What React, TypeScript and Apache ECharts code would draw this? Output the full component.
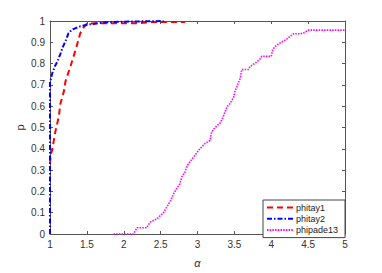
import React, { useEffect, useRef } from "react";
import * as echarts from "echarts";

const xTicks = [1, 1.5, 2, 2.5, 3, 3.5, 4, 4.5, 5];
const seriesNames = ["phitay1", "phitay2", "phipade13"];

const phitay1X = [1.0, 1.01, 1.03, 1.07, 1.09, 1.12, 1.14, 1.19, 1.21, 1.28, 1.35, 1.41, 1.46, 1.5, 1.7, 2.2, 2.4, 2.83];
const phitay1Y = [0.33, 0.372, 0.394, 0.477, 0.507, 0.552, 0.61, 0.672, 0.717, 0.79, 0.867, 0.942, 0.972, 0.987, 0.99, 0.99, 0.995, 0.995];

const phitay2X = [1.0, 1.0, 1.03, 1.07, 1.1, 1.14, 1.17, 1.21, 1.25, 1.3, 1.41, 1.53, 1.73, 2.0, 2.54];
const phitay2Y = [0.0, 0.709, 0.754, 0.79, 0.81, 0.845, 0.875, 0.905, 0.942, 0.96, 0.975, 0.984, 0.993, 0.997, 1.0];

const phipadeX = [1.86, 2.13, 2.18, 2.31, 2.36, 2.45, 2.54, 2.63, 2.68, 2.72, 2.76, 2.79, 2.83, 2.86, 2.9, 2.97, 3.03, 3.1, 3.17, 3.19, 3.22, 3.26, 3.31, 3.35, 3.4, 3.44, 3.49, 3.51, 3.58, 3.6, 3.69, 3.71, 3.8, 3.85, 3.87, 4.0, 4.02, 4.07, 4.12, 4.2, 4.3, 4.4, 4.46, 4.5, 5.0];
const phipadeY = [0.0, 0.0, 0.029, 0.029, 0.056, 0.071, 0.101, 0.154, 0.191, 0.215, 0.235, 0.27, 0.29, 0.32, 0.34, 0.372, 0.399, 0.424, 0.439, 0.477, 0.492, 0.507, 0.522, 0.552, 0.597, 0.612, 0.642, 0.672, 0.732, 0.772, 0.772, 0.785, 0.807, 0.822, 0.834, 0.834, 0.867, 0.886, 0.897, 0.912, 0.94, 0.94, 0.947, 0.957, 0.957];

const zip = (xs: number[], ys: number[]) => xs.map((x, i) => [x, ys[i]]);

export default function App() {
  const ref = useRef<HTMLDivElement>(null);
  useEffect(() => {
    if (!ref.current) return;
    const chart = echarts.init(ref.current, undefined, { renderer: "svg" });
    const axisColor = "#555";
    const labelColor = "#333";
    const font = "Liberation Sans, Arial, sans-serif";
    const baseX = {
      type: "value" as const,
      min: 1,
      max: 5,
      interval: 0.5,
      axisLine: { show: true, onZero: false, lineStyle: { color: axisColor, width: 1 } },
      axisTick: { show: true, inside: true, length: 3, lineStyle: { color: axisColor } },
      splitLine: { show: false },
    };
    const baseY = {
      type: "value" as const,
      min: 0,
      max: 1,
      interval: 0.1,
      axisLine: { show: true, onZero: false, lineStyle: { color: axisColor, width: 1 } },
      axisTick: { show: true, inside: true, length: 3, lineStyle: { color: axisColor } },
      splitLine: { show: false },
    };
    chart.setOption({
      animation: false,
      backgroundColor: "#fff",
      grid: { left: 50, right: 37, top: 21, bottom: 31 },
      legend: {
        left: 263,
        top: 200,
        orient: "vertical",
        data: seriesNames,
        itemWidth: 27,
        itemHeight: 8,
        itemGap: 2.3,
        padding: [3, 7, 3, 3],
        backgroundColor: "#fff",
        borderColor: "#444",
        borderWidth: 1,
        itemStyle: { opacity: 0 },
        textStyle: { fontSize: 9, color: "#222", fontFamily: font, padding: [0, 0, 0, -3] },
      },
      xAxis: [
        {
          ...baseX,
          position: "bottom",
          name: "α",
          nameLocation: "middle",
          nameGap: 23,
          nameMoveOverlap: false,
          nameTextStyle: { fontSize: 11, color: labelColor, fontFamily: font, fontStyle: "italic" },
          axisLabel: { fontSize: 10, color: labelColor, fontFamily: font, margin: 5 },
        },
        { ...baseX, position: "top", axisLabel: { show: false } },
      ],
      yAxis: [
        {
          ...baseY,
          position: "left",
          name: "p",
          nameLocation: "middle",
          nameGap: 25,
          nameMoveOverlap: false,
          nameTextStyle: { fontSize: 11, color: labelColor, fontFamily: font },
          axisLabel: { fontSize: 10, color: labelColor, fontFamily: font, margin: 5 },
        },
        { ...baseY, position: "right", axisLabel: { show: false } },
      ],
      series: [
        {
          name: seriesNames[0],
          type: "line",
          data: zip(phitay1X, phitay1Y),
          showSymbol: false,
          symbol: "none",
          color: "#ff0000",
          lineStyle: { color: "#ff0000", width: 2, type: [6, 4] },
          z: 3,
        },
        {
          name: seriesNames[1],
          type: "line",
          data: zip(phitay2X, phitay2Y),
          showSymbol: false,
          symbol: "none",
          color: "#0000ff",
          lineStyle: { color: "#0000ff", width: 2, type: [5, 2, 1.5, 2] },
          z: 4,
        },
        {
          name: seriesNames[2],
          type: "line",
          data: zip(phipadeX, phipadeY),
          showSymbol: false,
          symbol: "none",
          color: "#ff00ff",
          lineStyle: { color: "#ff00ff", width: 1.6, type: [1.5, 1.2] },
          z: 2,
        },
      ],
    });
    return () => chart.dispose();
  }, []);
  return (
    <div
      ref={ref}
      style={{ position: "fixed", left: 0, top: 0, width: 382, height: 273 }}
    />
  );
}
